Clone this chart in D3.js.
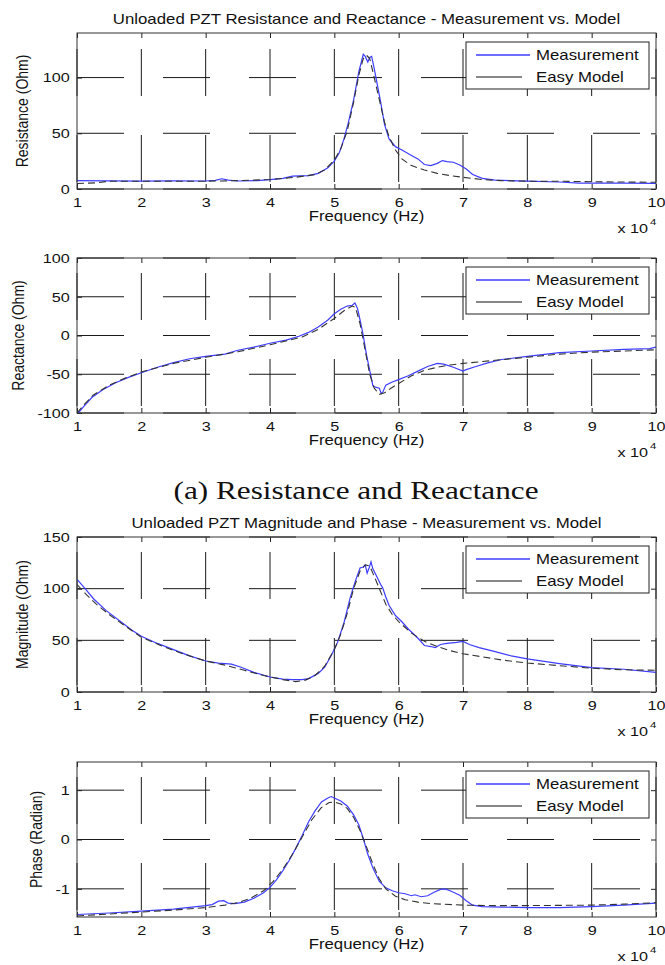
<!DOCTYPE html>
<html>
<head>
<meta charset="utf-8">
<script src="https://cdn.jsdelivr.net/npm/d3@7"></script>
<style>
  body { margin: 0; background: #fff; }
  svg { display: block; }
  text { font-family: "Liberation Sans", Arial, Helvetica, sans-serif; fill: #111; }
  .caption { font-family: "Liberation Serif", "Times New Roman", serif; }
</style>
</head>
<body>
<svg id="fig" width="665" height="965"></svg>
<script>
// frequency axis (x 10^4 Hz)
const xTicks = [1, 2, 3, 4, 5, 6, 7, 8, 9, 10];

// resistance (Ohm)
const resMeasF = [1.0, 1.5, 2.0, 2.5, 3.0, 3.15, 3.25, 3.35, 3.5, 3.8, 4.0, 4.2, 4.35, 4.6, 4.75, 4.9, 5.0, 5.08, 5.15, 5.22, 5.3, 5.38, 5.45, 5.48, 5.52, 5.55, 5.58, 5.62, 5.68, 5.72, 5.78, 5.85, 5.95, 6.05, 6.2, 6.3, 6.4, 6.5, 6.6, 6.68, 6.75, 6.85, 6.95, 7.05, 7.15, 7.3, 7.5, 8.0, 8.5, 8.8, 9.0, 9.5, 10.0];
const resMeasV = [7.5, 7.3, 7.0, 7.3, 7.2, 7.8, 9.2, 8.0, 7.2, 7.5, 8.5, 9.5, 11.5, 12, 14, 19, 25, 33, 45, 60, 80, 105, 121, 119, 114, 118, 119, 108, 90, 78, 58, 45, 38, 35, 30, 27, 22, 21, 23, 25.5, 24.5, 24, 21.5, 18, 13, 9.5, 8, 7, 6.3, 5.2, 5.2, 5.2, 5.0];
const resModF = [1.0, 1.3, 1.5, 2.0, 3.0, 3.5, 4.0, 4.4, 4.7, 4.85, 5.0, 5.1, 5.2, 5.3, 5.38, 5.45, 5.5, 5.55, 5.62, 5.7, 5.78, 5.85, 5.95, 6.05, 6.2, 6.4, 6.6, 6.8, 7.0, 7.3, 7.6, 8.0, 8.5, 9.0, 10.0];
const resModV = [5.0, 5.5, 7.0, 7.0, 7.0, 7.5, 8.5, 10.5, 13, 17, 26, 36, 52, 78, 102, 117, 120, 117, 100, 80, 60, 47, 35, 27, 21, 17, 14, 12, 10.5, 8.5, 7.5, 7.0, 7.0, 6.5, 6.0];

// reactance (Ohm)
const reaMeasF = [1.02, 1.1, 1.23, 1.4, 1.6, 1.8, 2.0, 2.25, 2.5, 2.75, 3.0, 3.3, 3.5, 3.75, 4.0, 4.25, 4.45, 4.6, 4.75, 4.9, 5.0, 5.1, 5.2, 5.28, 5.32, 5.36, 5.4, 5.45, 5.5, 5.55, 5.6, 5.65, 5.7, 5.73, 5.76, 5.8, 5.9, 6.0, 6.15, 6.3, 6.45, 6.6, 6.7, 6.85, 7.0, 7.05, 7.2, 7.4, 7.6, 8.0, 8.5, 9.0, 9.5, 9.9, 10.0];
const reaMeasV = [-100, -92, -80, -70, -61, -54, -48, -41, -35, -30, -27, -24, -19, -15, -10, -6, -1, 4, 11, 20, 28, 34, 38, 39, 42, 35, 20, 0, -25, -45, -65, -67, -68, -75, -72, -64, -60, -57, -52, -46, -40, -36, -37, -41, -46, -44, -40, -35, -31, -27, -22, -20, -18, -17, -15];
const reaModF = [1.0, 1.1, 1.25, 1.5, 1.75, 2.0, 2.5, 3.0, 3.5, 4.0, 4.5, 4.75, 5.0, 5.15, 5.28, 5.33, 5.4, 5.47, 5.55, 5.62, 5.7, 5.78, 5.88, 6.0, 6.2, 6.4, 6.6, 6.8, 7.0, 7.5, 8.0, 8.5, 9.0, 9.5, 10.0];
const reaModV = [-100, -90, -77, -64, -55, -47, -36, -28, -21, -12, -2, 8, 22, 32, 38, 36, 15, -15, -50, -68, -76, -74, -68, -62, -52, -45, -41, -38, -36, -32, -28, -24, -21.5, -20, -18.5];

// magnitude (Ohm)
const magMeasF = [1.0, 1.1, 1.26, 1.45, 1.66, 1.85, 2.0, 2.25, 2.5, 2.75, 3.0, 3.2, 3.4, 3.55, 3.75, 4.0, 4.2, 4.35, 4.5, 4.6, 4.75, 4.85, 4.95, 5.05, 5.15, 5.25, 5.33, 5.4, 5.45, 5.48, 5.51, 5.54, 5.57, 5.6, 5.65, 5.72, 5.75, 5.8, 5.85, 5.95, 6.05, 6.15, 6.3, 6.4, 6.5, 6.57, 6.65, 6.75, 6.9, 7.0, 7.1, 7.25, 7.5, 7.75, 8.0, 8.5, 9.0, 9.5, 10.0];
const magMeasV = [109, 102, 90, 79, 69, 60, 54, 47, 41, 35, 30, 28, 27, 24, 19, 14.5, 12.5, 12, 12, 13, 18, 24, 35, 48, 67, 92, 108, 120, 121, 123, 115, 120, 126, 119, 113, 104, 101, 92, 84, 74, 68, 61, 52, 45, 44, 43, 46, 47, 48, 49, 46, 43, 39, 35, 32, 27.5, 23.5, 22, 19];
const magModF = [1.0, 1.15, 1.3, 1.5, 1.7, 2.0, 2.3, 2.6, 3.0, 3.3, 3.6, 3.9, 4.2, 4.4, 4.55, 4.7, 4.85, 5.0, 5.1, 5.2, 5.3, 5.4, 5.48, 5.55, 5.62, 5.7, 5.8, 5.9, 6.0, 6.2, 6.4, 6.6, 6.8, 7.0, 7.3, 7.6, 8.0, 8.5, 9.0, 9.5, 10.0];
const magModV = [104, 94, 85, 75, 66, 53, 45, 38, 30, 26, 21, 16, 12, 10, 11.5, 16, 25, 41, 56, 76, 100, 117, 123, 122, 112, 100, 85, 75, 68, 57, 49, 44, 40, 37, 34, 31, 28, 25.5, 23, 21.5, 21];

// phase (radian)
const phaMeasF = [1.0, 1.5, 2.0, 2.5, 3.0, 3.1, 3.2, 3.28, 3.35, 3.45, 3.6, 3.75, 3.9, 4.0, 4.1, 4.2, 4.3, 4.4, 4.5, 4.6, 4.7, 4.8, 4.9, 4.95, 5.0, 5.1, 5.2, 5.3, 5.38, 5.45, 5.52, 5.6, 5.7, 5.8, 5.9, 6.0, 6.1, 6.2, 6.25, 6.35, 6.45, 6.55, 6.65, 6.72, 6.8, 6.95, 7.05, 7.15, 7.3, 7.6, 8.0, 8.5, 9.0, 9.5, 10.0];
const phaMeasV = [-1.52, -1.49, -1.45, -1.41, -1.34, -1.32, -1.25, -1.24, -1.29, -1.30, -1.27, -1.19, -1.08, -0.97, -0.82, -0.63, -0.42, -0.18, 0.08, 0.36, 0.58, 0.76, 0.84, 0.87, 0.84, 0.78, 0.68, 0.50, 0.30, 0.02, -0.30, -0.58, -0.85, -0.98, -1.04, -1.08, -1.10, -1.14, -1.12, -1.16, -1.14, -1.07, -1.01, -1.00, -1.04, -1.13, -1.24, -1.33, -1.36, -1.37, -1.38, -1.38, -1.36, -1.33, -1.29];
const phaModF = [1.0, 1.5, 2.0, 2.5, 3.0, 3.3, 3.5, 3.7, 3.9, 4.05, 4.2, 4.35, 4.5, 4.65, 4.8, 4.92, 5.0, 5.1, 5.2, 5.3, 5.4, 5.5, 5.6, 5.7, 5.8, 5.95, 6.1, 6.3, 6.5, 7.0, 7.5, 8.0, 9.0, 9.5, 10.0];
const phaModV = [-1.55, -1.51, -1.47, -1.43, -1.38, -1.33, -1.28, -1.19, -1.04, -0.85, -0.60, -0.30, 0.05, 0.40, 0.65, 0.75, 0.76, 0.72, 0.63, 0.45, 0.18, -0.15, -0.50, -0.80, -1.00, -1.15, -1.22, -1.27, -1.30, -1.33, -1.34, -1.34, -1.33, -1.31, -1.28];

const legendNames = ["Measurement", "Easy Model"];

// layout
const SX = 1.2;           // the figure is stretched horizontally
const X0 = 77, X1 = 656;
const PANELS = [
  { top: 33,  bottom: 189, dom: [0, 140], ticks: [0, 50, 100], ylab: "Resistance (Ohm)", ylx: 22,
    title: "Unloaded PZT Resistance and Reactance - Measurement vs. Model", meas: [resMeasF, resMeasV], mod: [resModF, resModV] },
  { top: 258, bottom: 413, dom: [-100, 100], ticks: [-100, -50, 0, 50, 100], ylab: "Reactance (Ohm)", ylx: 18,
    meas: [reaMeasF, reaMeasV], mod: [reaModF, reaModV] },
  { top: 537, bottom: 692, dom: [0, 150], ticks: [0, 50, 100, 150], ylab: "Magnitude (Ohm)", ylx: 22,
    title: "Unloaded PZT Magnitude and Phase - Measurement vs. Model", meas: [magMeasF, magMeasV], mod: [magModF, magModV] },
  { top: 762, bottom: 917, dom: [-Math.PI / 2, Math.PI / 2], ticks: [-1, 0, 1], ylab: "Phase (Radian)", ylx: 36,
    meas: [phaMeasF, phaMeasV], mod: [phaModF, phaModV] }
];

const svg = d3.select("#fig");
const fmt = d => String(d);   // plain hyphen minus, no decimals

function txt(g, x, y, s, o = {}) {
  const tr = o.rot ? `translate(${x},${y}) rotate(-90) scale(1,${SX})` : `translate(${x},${y}) scale(${o.sx || SX},1)`;
  return g.append("text").attr("transform", tr)
    .attr("text-anchor", o.anchor || "middle")
    .attr("font-size", o.size || 14)
    .attr("dy", o.dy || 0)
    .attr("class", o.cls || null)
    .text(s);
}

const x = d3.scaleLinear().domain([1, 10]).range([X0, X1]);

PANELS.forEach((p, i) => {
  const y = d3.scaleLinear().domain(p.dom).range([p.bottom, p.top]);
  const g = svg.append("g");
  const cid = "clip" + i;
  g.append("clipPath").attr("id", cid).append("rect")
    .attr("x", X0).attr("y", p.top).attr("width", X1 - X0).attr("height", p.bottom - p.top);

  // dashed grid (matlab dotted grid, enlarged)
  const grid = g.append("g").attr("stroke", "#1a1a1a").attr("stroke-width", 1).attr("fill", "none");
  grid.selectAll(".gh").data(p.ticks).join("line")
    .attr("x1", X0).attr("x2", X1).attr("y1", d => y(d)).attr("y2", d => y(d))
    .attr("stroke-dasharray", "47 39");
  grid.selectAll(".gv").data(xTicks).join("line")
    .attr("x1", d => x(d)).attr("x2", d => x(d)).attr("y1", p.bottom).attr("y2", p.top)
    .attr("stroke-dasharray", "47 39").attr("stroke-dashoffset", 79);

  // axes with inward ticks on all four sides
  const ax = (sel) => sel.call(s => s.select(".domain").remove())
    .call(s => s.selectAll(".tick line").attr("stroke", "#222"));
  const lab = s => s.selectAll("text").attr("font-size", 13.5).attr("font-family", null)
    .attr("fill", "#111").attr("transform", `scale(${SX},1)`);
  g.append("g").attr("transform", `translate(0,${p.bottom})`)
    .call(d3.axisBottom(x).tickValues(xTicks).tickFormat(fmt).tickSizeInner(-5).tickSizeOuter(0).tickPadding(8))
    .call(ax).call(lab);
  g.append("g").attr("transform", `translate(0,${p.top})`)
    .call(d3.axisTop(x).tickValues(xTicks).tickSizeInner(-5).tickSizeOuter(0).tickFormat(""))
    .call(ax);
  g.append("g").attr("transform", `translate(${X0},0)`)
    .call(d3.axisLeft(y).tickValues(p.ticks).tickFormat(fmt).tickSizeInner(-5).tickSizeOuter(0).tickPadding(6))
    .call(ax).call(lab);
  g.append("g").attr("transform", `translate(${X1},0)`)
    .call(d3.axisRight(y).tickValues(p.ticks).tickSizeInner(-5).tickSizeOuter(0).tickFormat(""))
    .call(ax);

  // series
  const line = d3.line().x(d => x(d[0])).y(d => y(d[1]));
  const pl = g.append("g").attr("clip-path", `url(#${cid})`).attr("fill", "none");
  pl.append("path").datum(d3.zip(p.meas[0], p.meas[1])).attr("d", line)
    .attr("stroke", "#3d3dff").attr("stroke-width", 1.2);
  pl.append("path").datum(d3.zip(p.mod[0], p.mod[1])).attr("d", line)
    .attr("stroke", "#333").attr("stroke-width", 1.1).attr("stroke-dasharray", "7 4");

  // frame
  g.append("rect").attr("x", X0).attr("y", p.top).attr("width", X1 - X0).attr("height", p.bottom - p.top)
    .attr("fill", "none").attr("stroke", "#333").attr("stroke-width", 1);

  // legend
  const lg = g.append("g").attr("transform", `translate(466,${p.top + 9})`);
  lg.append("rect").attr("width", 183).attr("height", 47).attr("fill", "#fff").attr("stroke", "#222");
  const lc = ["#3d3dff", "#111"];
  legendNames.forEach((n, k) => {
    const ly = 13 + k * 22;
    lg.append("line").attr("x1", 10).attr("x2", k ? 56 : 64).attr("y1", ly).attr("y2", ly)
      .attr("stroke", lc[k]).attr("stroke-width", k ? 1 : 1.3);
    txt(lg, 70, ly + 5, n, { anchor: "start", size: 14 });
  });

  // labels
  if (p.title) txt(g, (X0 + X1) / 2, p.top - 9, p.title, { size: 14 });
  txt(g, p.ylx, (p.top + p.bottom) / 2, p.ylab, { rot: true, size: 14, dy: "0.35em" });
  txt(g, (X0 + X1) / 2, p.bottom + 32, "Frequency (Hz)", { size: 14 });
  const e = g.append("g");
  txt(e, 648, p.bottom + 44, "x 10", { anchor: "end", size: 13.5 });
  txt(e, 650, p.bottom + 36, "4", { anchor: "start", size: 9.5 });
});

txt(svg, 356, 499, "(a) Resistance and Reactance", { size: 25, sx: 1.25, cls: "caption" });
</script>
</body>
</html>
